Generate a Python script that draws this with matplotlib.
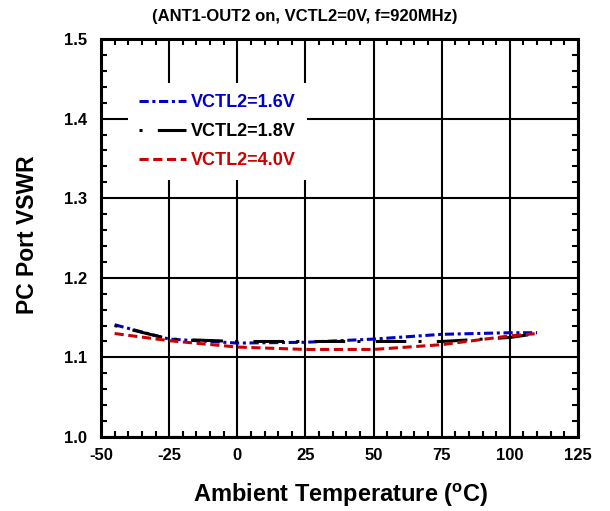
import matplotlib
matplotlib.use('Agg')
import matplotlib.pyplot as plt
from matplotlib.ticker import MultipleLocator, FormatStrFormatter

plt.rcParams['font.family'] = ['Liberation Sans', 'DejaVu Sans']
plt.rcParams['font.weight'] = 'bold'
plt.rcParams['mathtext.fontset'] = 'custom'
plt.rcParams['mathtext.bf'] = 'Liberation Sans:bold'
plt.rcParams['mathtext.rm'] = 'Liberation Sans:bold'
plt.rcParams['axes.unicode_minus'] = False

# temperature points (deg C)
temps = [-45, -25, 0, 25, 50, 75, 100, 110]
# VSWR for each control voltage
vswr_16 = [1.141, 1.123, 1.118, 1.119, 1.123, 1.129, 1.131, 1.131]
vswr_18 = [1.140, 1.123, 1.120, 1.120, 1.120, 1.120, 1.125, 1.130]
vswr_40 = [1.130, 1.121, 1.113, 1.110, 1.110, 1.116, 1.127, 1.130]
labels = ['VCTL2=1.6V', 'VCTL2=1.8V', 'VCTL2=4.0V']

fig = plt.figure(figsize=(6.1, 5.11), dpi=100)
ax = fig.add_axes([0.1656, 0.1448, 0.7819, 0.7789])

ax.plot(temps, vswr_16, color='#0000cc', lw=2.2, dashes=(3, 1.2, 1, 1.2), label=labels[0])
ax.plot(temps, vswr_18, color='black', lw=2.2, dashes=(1, 5, 10, 4), label=labels[1])
ax.plot(temps, vswr_40, color='#cc0000', lw=2.2, dashes=(3, 1.5), label=labels[2])

ax.set_xlim(-50, 125)
ax.set_ylim(1.0, 1.5)
ax.xaxis.set_major_locator(MultipleLocator(25))
ax.xaxis.set_minor_locator(MultipleLocator(5))
ax.yaxis.set_major_locator(MultipleLocator(0.1))
ax.yaxis.set_minor_locator(MultipleLocator(0.02))
ax.yaxis.set_major_formatter(FormatStrFormatter('%.1f'))
ax.tick_params(which='both', direction='in', top=True, right=True, labelsize=12)
ax.tick_params(axis='y', which='major', length=0, pad=10)
ax.tick_params(axis='x', which='major', length=0, pad=8)
ax.tick_params(which='minor', length=4, width=1.5)
ax.grid(True, which='major', color='black', lw=1.5)
for s in ax.spines.values():
    s.set_linewidth(2.2)

fig.text(0.559, 0.0313, 'Ambient Temperature ($^{\\mathbf{o}}$C)', fontsize=17,
         fontweight='bold', ha='center', va='center')
fig.text(0.045, 0.54, 'PC Port VSWR', fontsize=16.5, fontweight='bold',
         rotation=90, ha='center', va='center')
fig.text(0.5, 1 - 17 / 511, '(ANT1-OUT2 on, VCTL2=0V, f=920MHz)', fontsize=12,
         fontweight='bold', ha='center', va='center')

leg = ax.legend(loc='upper left', bbox_to_anchor=(128 / 610, 1 - 83 / 511),
                bbox_transform=fig.transFigure, borderaxespad=0, borderpad=0.6,
                frameon=True, fancybox=False, facecolor='white', edgecolor='none',
                framealpha=1, labelcolor='linecolor', fontsize=13,
                handlelength=2.6, handletextpad=0.3, labelspacing=0.68)
for t in leg.get_texts():
    t.set_fontweight('bold')

fig.savefig('out.png', dpi=100)
